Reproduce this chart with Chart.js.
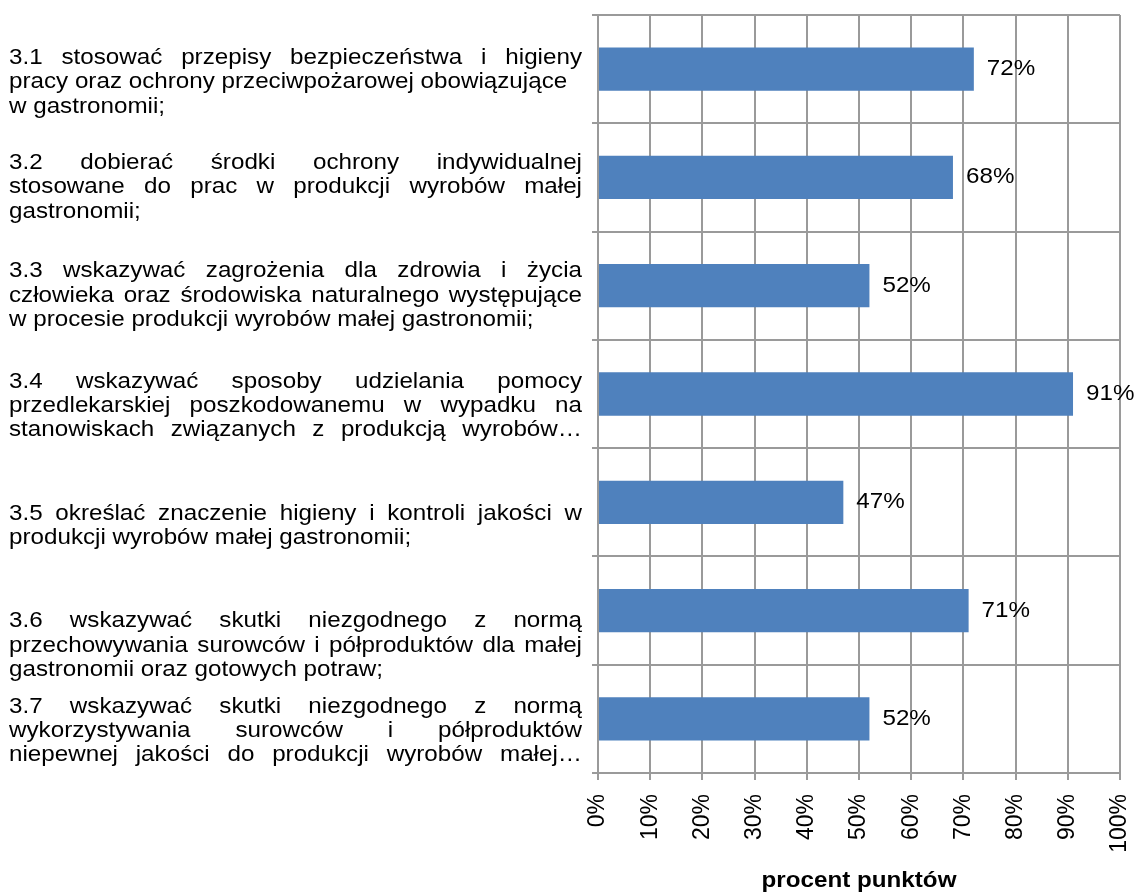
<!DOCTYPE html>
<html>
<head>
<meta charset="utf-8">
<script src="https://cdn.jsdelivr.net/npm/chart.js@4.4.0/dist/chart.umd.min.js"></script>
<style>
  html, body { margin: 0; padding: 0; background: #fff; }
</style>
</head>
<body>
<canvas id="myChart" width="1134" height="893"></canvas>
<script>
// category labels, already broken into lines as in the original
const categoryLines = [
  ["3.1 stosować przepisy bezpieczeństwa i higieny",
   "pracy oraz ochrony przeciwpożarowej obowiązujące",
   "w gastronomii;"],
  ["3.2 dobierać środki ochrony indywidualnej",
   "stosowane do prac w produkcji wyrobów małej",
   "gastronomii;"],
  ["3.3 wskazywać zagrożenia dla zdrowia i życia",
   "człowieka oraz środowiska naturalnego występujące",
   "w procesie produkcji wyrobów małej gastronomii;"],
  ["3.4 wskazywać sposoby udzielania pomocy",
   "przedlekarskiej poszkodowanemu w wypadku na",
   "stanowiskach związanych z produkcją wyrobów…"],
  ["3.5 określać znaczenie higieny i kontroli jakości w",
   "produkcji wyrobów małej gastronomii;"],
  ["3.6 wskazywać skutki niezgodnego z normą",
   "przechowywania surowców i półproduktów dla małej",
   "gastronomii oraz gotowych potraw;"],
  ["3.7 wskazywać skutki niezgodnego z normą",
   "wykorzystywania surowców i półproduktów",
   "niepewnej jakości do produkcji wyrobów małej…"]
];
const percentValues = [72, 68, 52, 91, 47, 71, 52];
const axisTitle = "procent punktów";

// layout bits
const labelShift = [13, 10, 10, 12, 24, 35, 12];
const lineH = 24.3;
const sx = 1.1;   // original text is a bit wider than plain Arial
const fontFam = '"Liberation Sans", Arial, sans-serif';

function drawWide(ctx, txt, x, y) {
  ctx.save();
  ctx.translate(x, y);
  ctx.scale(sx, 1);
  ctx.fillText(txt, 0, 0);
  ctx.restore();
}

const textPlugin = {
  id: 'textPlugin',
  afterDraw(chart) {
    const ctx = chart.ctx;
    const yScale = chart.scales.y;
    const area = chart.chartArea;
    ctx.save();
    ctx.fillStyle = '#000';
    ctx.textBaseline = 'middle';
    ctx.textAlign = 'left';
    ctx.font = '22px ' + fontFam;

    // left labels, justified
    const left = 9, right = 582;
    categoryLines.forEach((lines, i) => {
      const yc = yScale.getPixelForValue(i) + labelShift[i];
      const y0 = yc - (lines.length - 1) * lineH / 2;
      lines.forEach((line, j) => {
        const y = y0 + j * lineH;
        const words = line.split(' ');
        let just = j < lines.length - 1 || line.endsWith('…');
        if (i === 0 && j === 1) just = false;
        if (!just || words.length < 2) {
          drawWide(ctx, line, left, y);
          return;
        }
        const widths = words.map(w => ctx.measureText(w).width * sx);
        const total = widths.reduce((a, b) => a + b, 0);
        const gap = (right - left - total) / (words.length - 1);
        let x = left;
        words.forEach((w, k) => {
          drawWide(ctx, w, x, y);
          x += widths[k] + gap;
        });
      });
    });

    // value labels
    const meta = chart.getDatasetMeta(0);
    meta.data.forEach((bar, i) => {
      drawWide(ctx, percentValues[i] + '%', bar.x + 13, bar.y);
    });

    // axis title
    ctx.font = 'bold 22px ' + fontFam;
    const tw = ctx.measureText(axisTitle).width * sx;
    drawWide(ctx, axisTitle, (area.left + area.right) / 2 - tw / 2, area.bottom + 108);
    ctx.restore();
  }
};

Chart.defaults.font.family = fontFam;
Chart.defaults.color = '#000';

new Chart(document.getElementById('myChart'), {
  type: 'bar',
  data: {
    labels: categoryLines.map(l => l.join(' ')),
    datasets: [{
      data: percentValues,
      backgroundColor: '#4F81BD',
      borderWidth: 0,
      barPercentage: 0.4,
      categoryPercentage: 1.0
    }]
  },
  options: {
    indexAxis: 'y',
    responsive: false,
    animation: false,
    layout: { padding: { top: 15, right: 14, left: 0, bottom: 0 } },
    plugins: {
      legend: { display: false },
      tooltip: { enabled: false }
    },
    scales: {
      x: {
        min: 0,
        max: 100,
        ticks: {
          stepSize: 10,
          minRotation: 90,
          maxRotation: 90,
          padding: 14,
          font: { size: 23 },
          color: '#000',
          callback: (v) => v + '%'
        },
        grid: { color: '#9a9a9a', lineWidth: 2, tickLength: 7 },
        border: { color: '#9a9a9a', width: 2 },
        afterFit: (scale) => {
          scale.height = 120;
          scale.paddingLeft = 0;
          scale.paddingRight = 0;
        }
      },
      y: {
        ticks: { display: false },
        grid: { offset: true, color: '#9a9a9a', lineWidth: 2, tickLength: 6 },
        border: { color: '#9a9a9a', width: 2 },
        afterFit: (scale) => { scale.width = 598; }
      }
    }
  },
  plugins: [textPlugin]
});
</script>
</body>
</html>
